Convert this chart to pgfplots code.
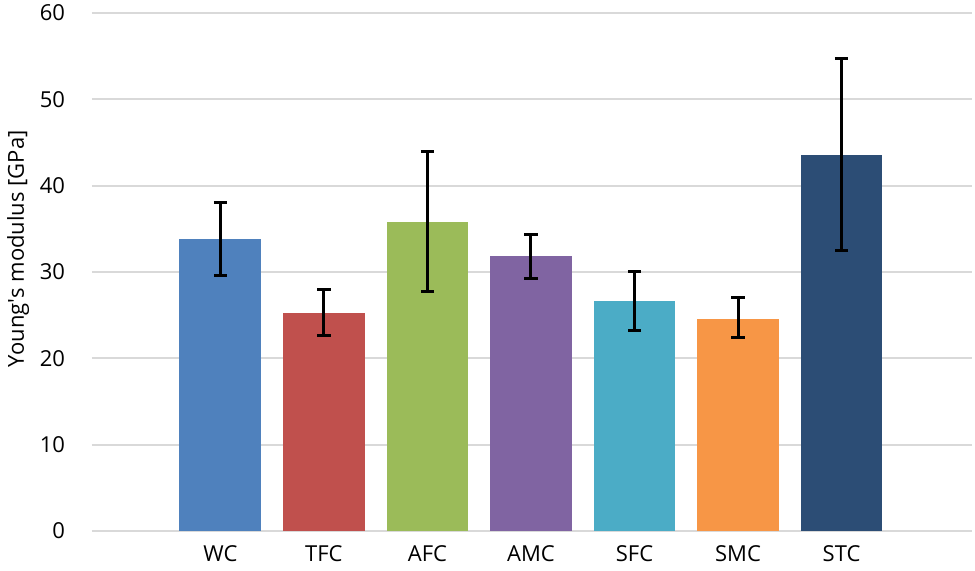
\documentclass[border=0pt]{standalone}
\usepackage{pgfplots}
\pgfplotsset{compat=1.18}
\usepackage{fontspec}
\setmainfont{Open Sans}

\definecolor{cWC}{HTML}{4F81BD}
\definecolor{cTFC}{HTML}{C0504D}
\definecolor{cAFC}{HTML}{9BBB59}
\definecolor{cAMC}{HTML}{8064A2}
\definecolor{cSFC}{HTML}{4BACC6}
\definecolor{cSMC}{HTML}{F79646}
\definecolor{cSTC}{HTML}{2C4D75}
\definecolor{gridgray}{HTML}{D9D9D9}

\begin{document}
\begin{tikzpicture}
\useasboundingbox (-46pt,-20pt) rectangle (441.5pt,265.5pt);
\begin{axis}[
    at={(0,0)}, anchor=south west,
    scale only axis,
    width=440pt, height=259pt,
    xmin=-0.24, xmax=8.26,
    ymin=0, ymax=60,
    ytick={0,10,...,60},
    xtick={1,...,7},
    xticklabels={WC,TFC,AFC,AMC,SFC,SMC,STC},
    ybar, bar width=0.79, bar shift=0pt,
    axis line style={draw=none},
    major tick length=0pt,
    ymajorgrids,
    grid style={gridgray, line width=1pt},
    font=\fontsize{11pt}{13pt}\selectfont,
    /pgf/number format/assume math mode=true,
    yticklabel style={xshift=-10pt},
    xticklabel style={yshift=-4pt},
    ylabel={Young\textquotesingle s modulus [GPa]},
    ylabel style={at={(axis description cs:-0.084,0.545)}, anchor=center},
    every axis plot/.append style={draw=none},
    error bars/y dir=both,
    error bars/y explicit,
    error bars/error mark=|,
    error bars/error bar style={line width=1.5pt, black, draw},
    error bars/error mark options={line width=1.5pt, black, mark size=3.3pt, draw},
]
\addplot[fill=cWC]  coordinates {(1,33.8) += (0,4.27) -= (0,4.2)};
\addplot[fill=cTFC] coordinates {(2,25.3) += (0,2.7) -= (0,2.7)};
\addplot[fill=cAFC] coordinates {(3,35.8) += (0,8.2) -= (0,8.1)};
\addplot[fill=cAMC] coordinates {(4,31.8) += (0,2.5) -= (0,2.5)};
\addplot[fill=cSFC] coordinates {(5,26.6) += (0,3.4) -= (0,3.4)};
\addplot[fill=cSMC] coordinates {(6,24.6) += (0,2.5) -= (0,2.2)};
\addplot[fill=cSTC] coordinates {(7,43.6) += (0,11.1) -= (0,11.1)};
\end{axis}
\end{tikzpicture}
\end{document}
